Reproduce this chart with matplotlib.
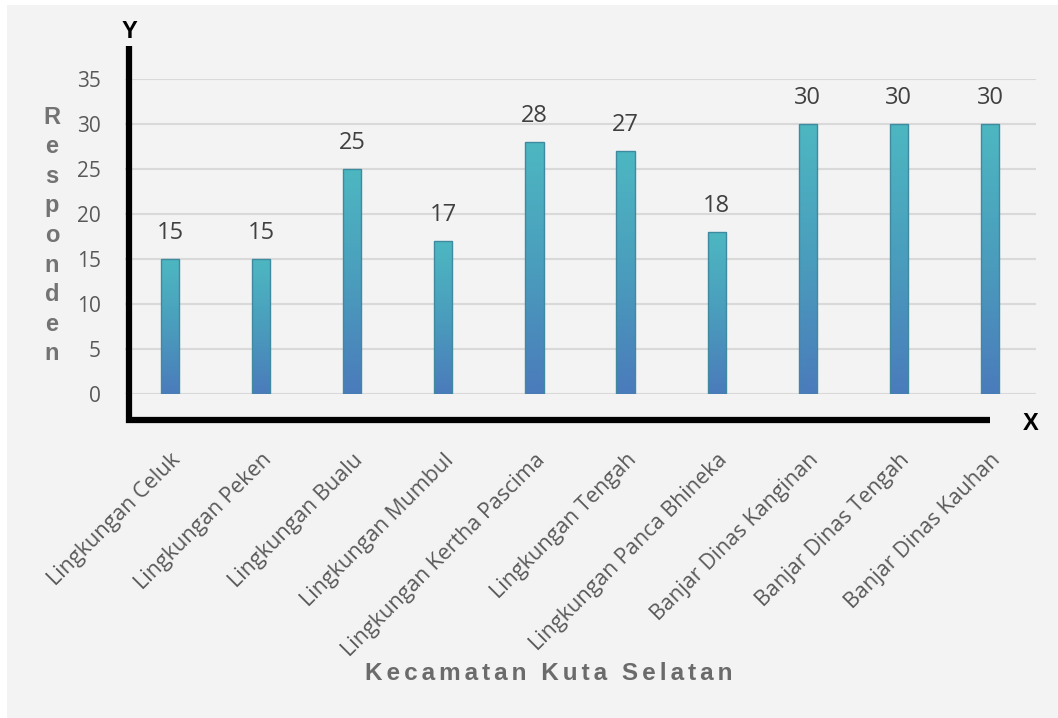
import matplotlib
matplotlib.use('Agg')
import matplotlib.pyplot as plt
import numpy as np
from matplotlib.colors import LinearSegmentedColormap
from matplotlib.lines import Line2D
from matplotlib.patches import Rectangle

categories = ['Lingkungan Celuk', 'Lingkungan Peken', 'Lingkungan Bualu',
              'Lingkungan Mumbul', 'Lingkungan Kertha Pascima', 'Lingkungan Tengah',
              'Lingkungan Panca Bhineka', 'Banjar Dinas Kanginan', 'Banjar Dinas Tengah',
              'Banjar Dinas Kauhan']
responden = [15, 15, 25, 17, 28, 27, 18, 30, 30, 30]
y_ticks = [0, 5, 10, 15, 20, 25, 30, 35]

W, H = 1058, 718
plt.rcParams['font.family'] = ['Open Sans', 'DejaVu Sans']

fig = plt.figure(figsize=(W / 100, H / 100), dpi=100, facecolor='white')


def px(x, y):
    # pixel position (from top-left) -> figure fraction
    return x / W, 1 - y / H


# grey panel behind the chart
fig.add_artist(Rectangle(px(7, 718), (W - 7) / W, (718 - 5) / H,
                         transform=fig.transFigure, facecolor='#f3f3f3',
                         edgecolor='none', zorder=-10))

ax = fig.add_axes([124.5 / W, 1 - 394 / H, 911 / W, 315 / H])
ax.set_facecolor('none')

x = np.arange(len(categories))
bars = ax.bar(x, responden, width=0.2, facecolor='none',
              edgecolor='#3f8a9e', linewidth=1.0, zorder=3)

# vertical gradient inside each bar
cmap = LinearSegmentedColormap.from_list('bar', ['#4a7bbb', '#4a9dbd', '#4db7c1'])
grad = np.linspace(0, 1, 256).reshape(-1, 1)
for b in bars:
    x0, y0 = b.get_xy()
    im = ax.imshow(grad, extent=[x0, x0 + b.get_width(), y0, y0 + b.get_height()],
                   origin='lower', cmap=cmap, aspect='auto', zorder=2)
    im.set_clip_path(b)

for xi, v in zip(x, responden):
    ax.annotate(str(v), (xi, v), xytext=(0, 10), textcoords='offset points',
                ha='center', va='bottom', fontsize=17, color='#404040')

ax.set_xlim(-0.5, len(categories) - 0.5)
ax.set_ylim(0, 35)
ax.set_yticks(y_ticks)
ax.set_yticklabels([str(t) for t in y_ticks], fontsize=15, color='#595959')
ax.tick_params(axis='y', length=0, pad=17)
ax.set_xticks(x)
ax.set_xticklabels(categories, rotation=45, ha='right', va='top',
                   rotation_mode='anchor', fontsize=15.5, color='#595959')
ax.tick_params(axis='x', length=0, pad=40)
ax.yaxis.grid(True, color='#d9d9d9', linewidth=1.5, zorder=0)
ax.set_axisbelow(True)
for s in ax.spines.values():
    s.set_visible(False)

# thick black axis lines with X / Y markers
fig.add_artist(Line2D([129 / W, 129 / W], [1 - 46 / H, 1 - 423 / H],
                      transform=fig.transFigure, color='black', linewidth=4.5,
                      solid_capstyle='butt'))
fig.add_artist(Line2D([126 / W, 990 / W], [1 - 420 / H, 1 - 420 / H],
                      transform=fig.transFigure, color='black', linewidth=4.5,
                      solid_capstyle='butt'))
fig.text(*px(129, 31), 'Y', ha='center', va='center', fontsize=17,
         fontweight='bold', color='black', family=['Liberation Sans', 'DejaVu Sans'])
fig.text(*px(1031, 423), 'X', ha='center', va='center', fontsize=17,
         fontweight='bold', color='black', family=['Liberation Sans', 'DejaVu Sans'])

# stacked y label
for i, ch in enumerate('Responden'):
    fig.text(*px(52, 117 + i * 29.6), ch, ha='center', va='center', fontsize=17,
             fontweight='bold', color='#737373', family=['Liberation Sans', 'DejaVu Sans'])

fig.text(*px(549, 674), '\u200a\u200a'.join('Kecamatan Kuta Selatan'), ha='center',
         va='center', fontsize=17.5, fontweight='bold', color='#6b6b6b',
         family=['Liberation Sans', 'DejaVu Sans'])

fig.savefig('out.png', dpi=100, facecolor='white')
